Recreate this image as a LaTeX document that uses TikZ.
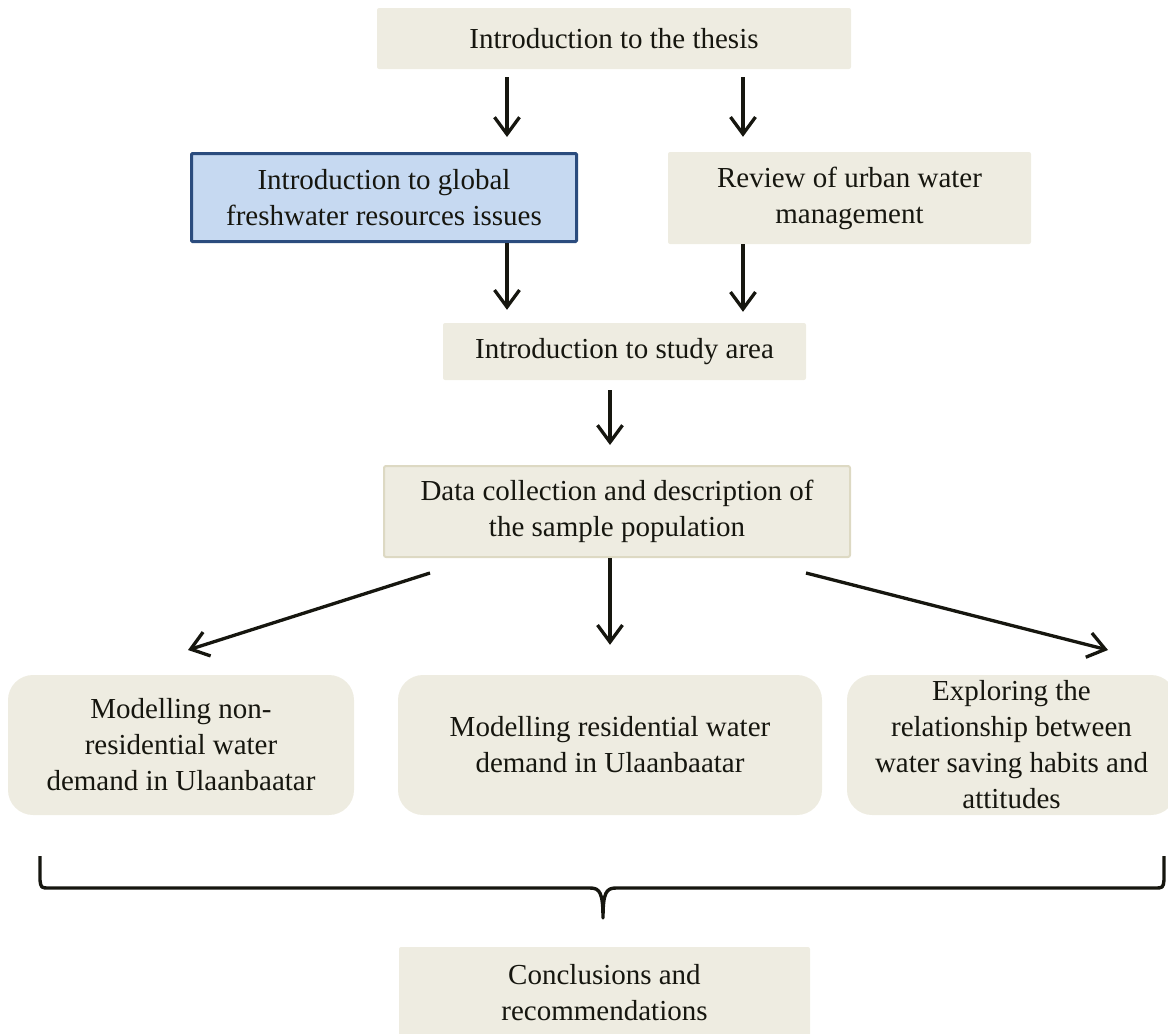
\documentclass[tikz,border=0pt]{standalone}
\usepackage{fontspec}
\setmainfont{Liberation Serif}
\usetikzlibrary{arrows.meta}
\definecolor{paper}{HTML}{EEECE1}
\definecolor{paperedge}{HTML}{DDD9C3}
\definecolor{skyfill}{HTML}{C6D9F1}
\definecolor{navy}{HTML}{2B4C7E}
\definecolor{ink}{HTML}{16160F}
\tikzset{
  box/.style={fill=paper, rounded corners=2pt, align=center, inner sep=0pt,
    text=ink, font=\fontsize{29}{36}\selectfont},
  softbox/.style={box, rounded corners=25pt},
  arr/.style={draw=ink, line width=3.3pt,
    -{Straight Barb[length=17pt, width=25pt, line width=3.3pt]}},
}
\begin{document}
\begin{tikzpicture}[x=1pt, y=-1pt]
\useasboundingbox (0,0) rectangle (1168,1034);
\clip (0,0) rectangle (1168,1034);

% chapters
\node[box, minimum width=474pt, minimum height=61pt] (thesis) at (614,38.5)
  {Introduction to the thesis};
\node[box, fill=skyfill, draw=navy, line width=3pt, rounded corners=1pt,
  minimum width=385pt, minimum height=88pt] (global) at (384,197.5)
  {Introduction to global\\freshwater resources issues};
\node[box, minimum width=363pt, minimum height=92pt] (review) at (849.5,198)
  {Review of urban water\\management};
\node[box, minimum width=363pt, minimum height=57pt] (study) at (624.5,351.5)
  {Introduction to study area};
\node[box, draw=paperedge, line width=2pt, minimum width=466pt, minimum height=91pt]
  (data) at (617,511.5)
  {Data collection and description of\\the sample population};
\node[softbox, minimum width=346pt, minimum height=140pt] (nonres) at (181,745)
  {Modelling non-\\residential water\\demand in Ulaanbaatar};
\node[softbox, minimum width=424pt, minimum height=140pt] (res) at (610,745)
  {Modelling residential water\\demand in Ulaanbaatar};
\node[softbox, minimum width=329pt, minimum height=140pt] (explore) at (1011.5,745)
  {Exploring the\\relationship between\\water saving habits and\\attitudes};
\node[box, minimum width=411pt, minimum height=91pt] (concl) at (604.5,992.5)
  {Conclusions and\\recommendations};

% arrows between chapters
\draw[arr, shorten <=8pt, shorten >=15pt] (thesis.south -| 507,0) -- (global.north -| 507,0);
\draw[arr, shorten <=8pt, shorten >=15pt] (thesis.south -| 743,0) -- (review.north -| 743,0);
\draw[arr, shorten >=13pt] (global.south -| 507,0) -- (study.north -| 507,0);
\draw[arr, shorten >=11pt] (review.south -| 743,0) -- (study.north -| 743,0);
\draw[arr, shorten <=10pt, shorten >=20pt] (study.south -| 610,0) -- (data.north -| 610,0);
\draw[arr, shorten >=30pt] (data.south -| 610,0) -- (res.north -| 610,0);
\coordinate (fanL) at (430,573);
\coordinate (fanR) at (806,573);
\coordinate (tipL) at (188,650);
\coordinate (tipR) at (1108,650);
\draw[arr] (fanL) -- (tipL);
\draw[arr] (fanR) -- (tipR);

% brace gathering the three studies
\coordinate (braceL) at (40,856);
\coordinate (braceR) at (1164,856);
\coordinate (braceTip) at (603,918);
\draw[ink, line width=3.4pt, line join=round]
  (braceL) -- (40,880) .. controls (41,888) .. (50,888) -- (590,888)
  .. controls (600,888) and (603,893) .. (braceTip)
  .. controls (603,893) and (606,888) .. (616,888) -- (1154,888)
  .. controls (1163,888) .. (1164,880) -- (braceR);
\end{tikzpicture}
\end{document}
